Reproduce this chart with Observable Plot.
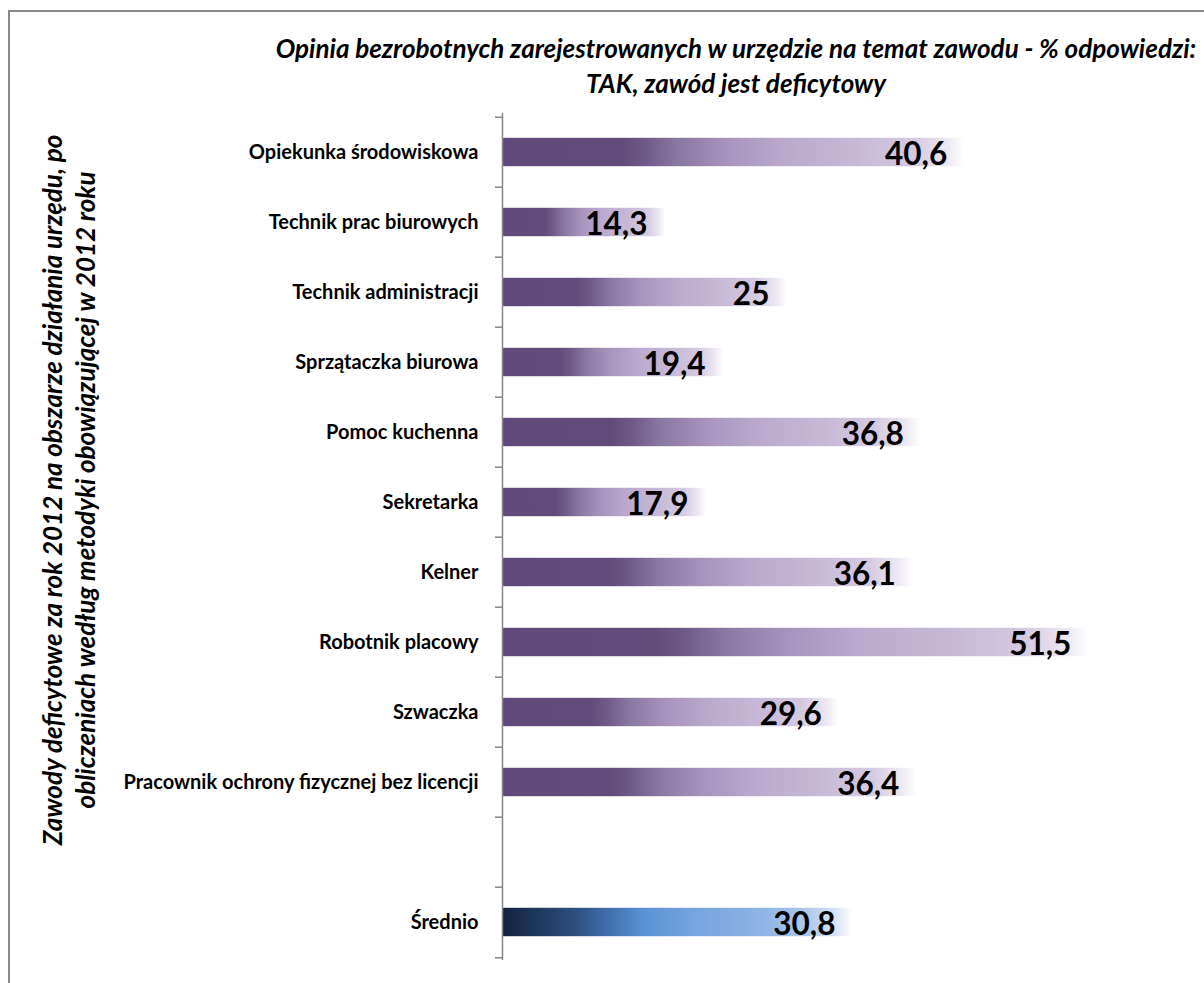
<!DOCTYPE html>
<html>
<head>
<meta charset="utf-8">
<script src="https://cdn.jsdelivr.net/npm/d3@7"></script>
<script src="https://cdn.jsdelivr.net/npm/@observablehq/plot@0.6"></script>
<style>
html, body { margin: 0; padding: 0; background: #fff; overflow: hidden; }
#wrap { position: relative; width: 1204px; height: 983px; overflow: hidden; background: #fff; }
#frame { position: absolute; left: 8px; top: 10px; width: 1400px; height: 1200px; border: 2.5px solid #898989; box-sizing: border-box; }
#chart { position: absolute; left: 0; top: 0; }
</style>
</head>
<body>
<div id="wrap"><div id="frame"></div><div id="chart"></div></div>
<script>
// ---- data ----
const categories = [
  "Opiekunka środowiskowa",
  "Technik prac biurowych",
  "Technik administracji",
  "Sprzątaczka biurowa",
  "Pomoc kuchenna",
  "Sekretarka",
  "Kelner",
  "Robotnik placowy",
  "Szwaczka",
  "Pracownik ochrony fizycznej bez licencji",
  " ",
  "Średnio"
];
const values = [40.6, 14.3, 25, 19.4, 36.8, 17.9, 36.1, 51.5, 29.6, 36.4, null, 30.8];
const averageCategory = "Średnio";
const titleLines = [
  "Opinia bezrobotnych zarejestrowanych w urzędzie na temat zawodu - % odpowiedzi:",
  "TAK, zawód jest deficytowy"
];
const yTitleLines = [
  "Zawody deficytowe za rok 2012 na obszarze działania urzędu, po",
  "obliczeniach według metodyki obowiązującej w 2012 roku"
];

// ---- layout ----
const W = 1204, H = 983;
const mTop = 113, mBottom = 23, mLeft = 502, mRight = 0;
const step = (H - mTop - mBottom) / categories.length;
const barInset = (step - 29) / 2;
const FONT = "Lato, 'Open Sans', sans-serif";
const axisColor = "#868686";

const rows = categories
  .map((c, i) => ({cat: c, value: values[i], avg: c === averageCategory}))
  .filter(d => d.value != null);
const fmt = v => String(v).replace(".", ",");

const chart = Plot.plot({
  width: W,
  height: H,
  marginTop: mTop,
  marginBottom: mBottom,
  marginLeft: mLeft,
  marginRight: mRight,
  style: {fontFamily: FONT, background: "transparent", overflow: "visible"},
  x: {domain: [0, 61.6], axis: null},
  y: {domain: categories, padding: 0, axis: null},
  marks: [
    Plot.barX(rows.filter(d => !d.avg), {x: "value", y: "cat", fill: "url(#gradOcc)", insetTop: barInset, insetBottom: barInset}),
    Plot.barX(rows.filter(d => d.avg), {x: "value", y: "cat", fill: "url(#gradAvg)", insetTop: barInset, insetBottom: barInset}),
    Plot.ruleX([0], {stroke: axisColor, strokeWidth: 1.5}),
    Plot.ruleY(categories, {y: d => d, x1: 0, x2: 0, insetLeft: -7, dy: -step / 2, stroke: axisColor, strokeWidth: 1.5}),
    Plot.ruleY(categories.slice(-1), {y: d => d, x1: 0, x2: 0, insetLeft: -7, dy: step / 2, stroke: axisColor, strokeWidth: 1.5}),
    Plot.axisY({tickSize: 0, tickPadding: 24, fontSize: 20, fontWeight: "bold", fill: "#000", label: null}),
    Plot.text(rows, {x: "value", y: "cat", text: d => fmt(d.value), textAnchor: "end", dx: -18, dy: 2, fontSize: 31.5, fontWeight: "bold", fill: "#000"})
  ]
});
document.getElementById("chart").appendChild(chart);

const svg = d3.select(chart);
const defs = svg.insert("defs", ":first-child");
function grad(id, stops) {
  const g = defs.append("linearGradient").attr("id", id).attr("x1", 0).attr("y1", 0).attr("x2", 1).attr("y2", 0);
  stops.forEach(([o, c]) => g.append("stop").attr("offset", o).attr("stop-color", c));
}
grad("gradOcc", [
  [0, "#5f4a7b"], [0.26, "#604b7b"], [0.31, "#6e5a88"], [0.38, "#8a78a4"], [0.49, "#a795bd"],
  [0.6, "#b9a8cc"], [0.75, "#c5b7d5"], [0.89, "#d4cae0"], [0.96, "#ece7f2"], [1, "#ffffff"]
]);
grad("gradAvg", [
  [0, "#12223e"], [0.2, "#2c4d7c"], [0.32, "#4474b3"], [0.4, "#5a91d6"], [0.55, "#77a5de"],
  [0.75, "#90b5e5"], [0.88, "#b3cbec"], [0.95, "#d8e4f5"], [1, "#ffffff"]
]);

// chart title (two centred lines)
svg.append("g")
  .attr("font-family", FONT).attr("font-weight", "bold").attr("font-style", "italic")
  .attr("font-size", 26).attr("text-anchor", "middle").attr("fill", "#000")
  .selectAll("text").data(titleLines).join("text")
  .attr("x", 736).attr("y", (d, i) => 58 + i * 35).text(d => d);

// rotated y-axis title
svg.append("g")
  .attr("font-family", FONT).attr("font-weight", "bold").attr("font-style", "italic")
  .attr("font-size", 26).attr("text-anchor", "middle").attr("fill", "#000")
  .selectAll("text").data(yTitleLines).join("text")
  .attr("transform", (d, i) => `translate(${62 + i * 33},490) rotate(-90)`).text(d => d);
</script>
</body>
</html>
